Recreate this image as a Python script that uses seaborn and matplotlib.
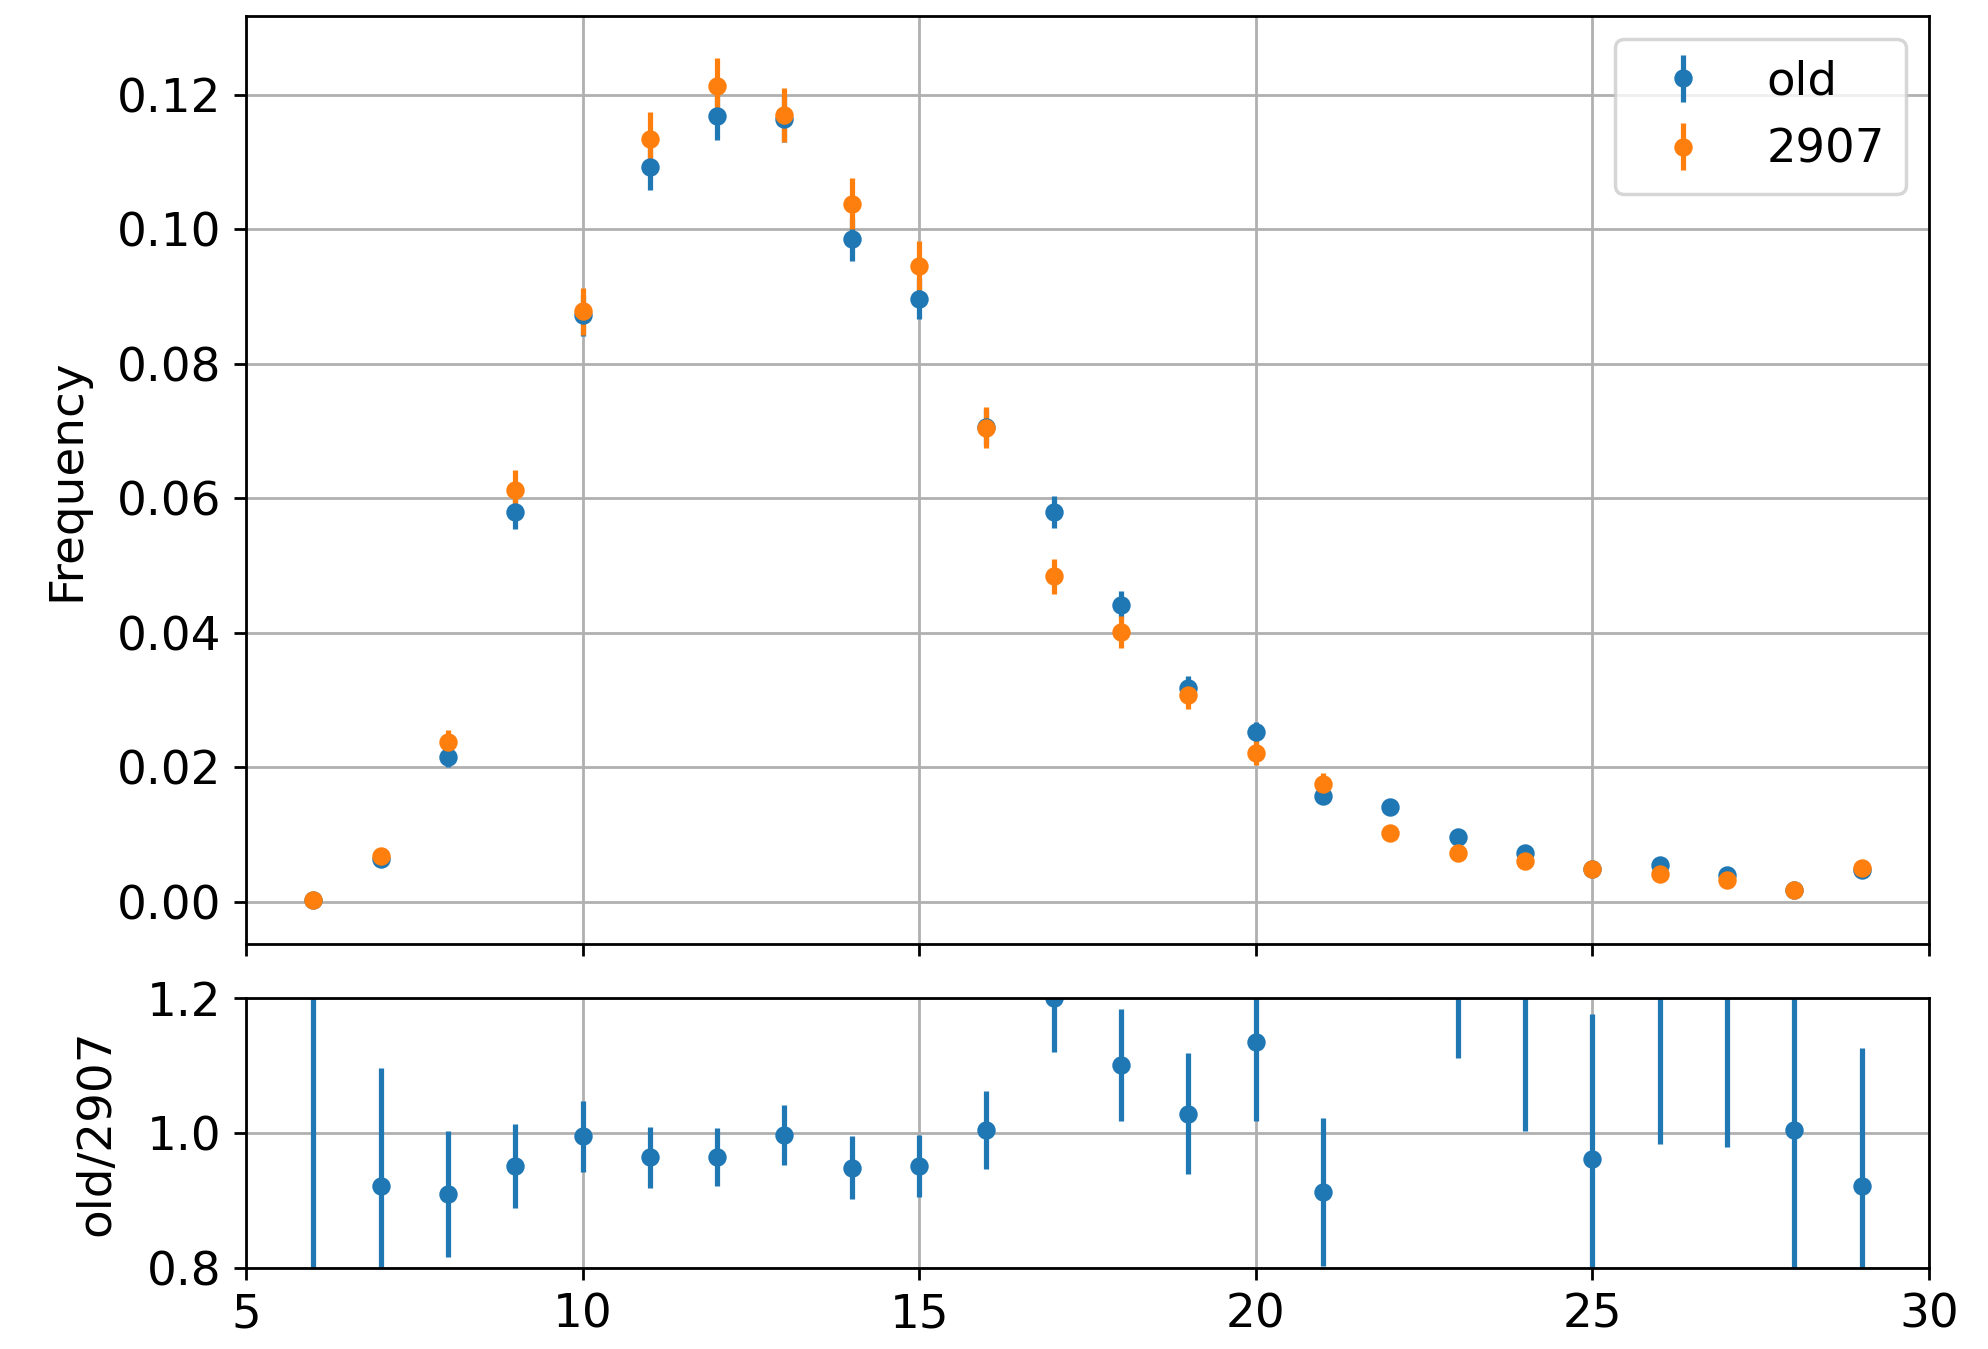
import numpy as np
import matplotlib
matplotlib.use("Agg")
import matplotlib.pyplot as plt
import seaborn as sns

# Bin centres
bins = list(range(6, 30))

# Normalised frequencies and their uncertainties
freq_old = [0.0002, 0.0064, 0.0215, 0.0580, 0.0872, 0.1093, 0.1168, 0.1164,
            0.0985, 0.0897, 0.0706, 0.0580, 0.0441, 0.0318, 0.0252, 0.0158,
            0.0141, 0.0096, 0.0073, 0.0049, 0.0055, 0.0040, 0.0017, 0.0047]
err_old = [0.00015, 0.0008, 0.0015, 0.0025, 0.0030, 0.0034, 0.0035, 0.0035,
           0.0032, 0.0031, 0.0027, 0.0024, 0.0021, 0.0018, 0.0016, 0.0013,
           0.0012, 0.0010, 0.0009, 0.0007, 0.0008, 0.0007, 0.0004, 0.0007]

freq_new = [0.0002, 0.0068, 0.0237, 0.0612, 0.0878, 0.1134, 0.1213, 0.1170,
            0.1038, 0.0946, 0.0705, 0.0484, 0.0401, 0.0307, 0.0222, 0.0175,
            0.0102, 0.0073, 0.0060, 0.0049, 0.0041, 0.0032, 0.0017, 0.0051]
err_new = [0.0002, 0.0010, 0.0018, 0.0030, 0.0035, 0.0040, 0.0042, 0.0040,
           0.0038, 0.0037, 0.0031, 0.0026, 0.0024, 0.0021, 0.0018, 0.0016,
           0.0012, 0.0010, 0.0009, 0.0008, 0.0008, 0.0007, 0.0005, 0.0009]

# Ratio old/2907 and its uncertainty
ratio = [1.40, 0.921, 0.910, 0.951, 0.995, 0.964, 0.964, 0.997,
         0.949, 0.951, 1.005, 1.200, 1.101, 1.029, 1.135, 0.913,
         1.380, 1.320, 1.220, 0.962, 1.340, 1.250, 1.005, 0.921]
ratio_err = [0.90, 0.175, 0.093, 0.062, 0.053, 0.045, 0.043, 0.045,
             0.046, 0.046, 0.058, 0.080, 0.083, 0.090, 0.117, 0.110,
             0.182, 0.209, 0.217, 0.214, 0.356, 0.271, 0.450, 0.205]

label_old = "old"
label_new = "2907"

sns.set_style("ticks", {"axes.grid": True, "grid.color": "#b0b0b0",
                        "axes.edgecolor": "black", "xtick.bottom": True,
                        "ytick.left": True, "text.color": "black",
                        "axes.labelcolor": "black", "xtick.color": "black",
                        "ytick.color": "black"})
plt.rcParams["font.family"] = ["DejaVu Sans"]
palette = sns.color_palette("tab10")

fig = plt.figure(figsize=(1988 / 250, 1349 / 250), dpi=250)
ax_top = fig.add_axes([0.1237, 0.3002, 0.8466, 0.6883])
ax_bot = fig.add_axes([0.1237, 0.0600, 0.8466, 0.2001], sharex=ax_top)

ebkw = dict(fmt="o", markersize=4.3, elinewidth=1.5, capsize=0)
ax_top.errorbar(bins, freq_old, yerr=err_old, color=palette[0], label=label_old, **ebkw)
ax_top.errorbar(bins, freq_new, yerr=err_new, color=palette[1], label=label_new, **ebkw)
ax_top.set_ylabel("Frequency", fontsize=13.5, labelpad=8)
ax_top.legend(loc="upper right", fontsize=13.4, handletextpad=0.8, borderpad=0.45)
ax_top.tick_params(labelbottom=False)

ax_bot.errorbar(bins, ratio, yerr=ratio_err, color=palette[0], **ebkw)
ax_bot.set_ylim(0.8, 1.2)
ax_bot.set_xlim(5, 30)
ax_bot.set_yticks([0.8, 1.0, 1.2])
ax_bot.set_ylabel("old/2907", fontsize=13.5, labelpad=8)

for ax in (ax_top, ax_bot):
    ax.grid(True, color="#b0b0b0", linewidth=0.8)
    ax.tick_params(labelsize=13.5, length=3.5, width=0.8, color="black",
                   labelcolor="black")
    for s in ax.spines.values():
        s.set_linewidth(0.8)
        s.set_color("black")

fig.align_ylabels([ax_top, ax_bot])
fig.savefig("out.png", dpi=250)
